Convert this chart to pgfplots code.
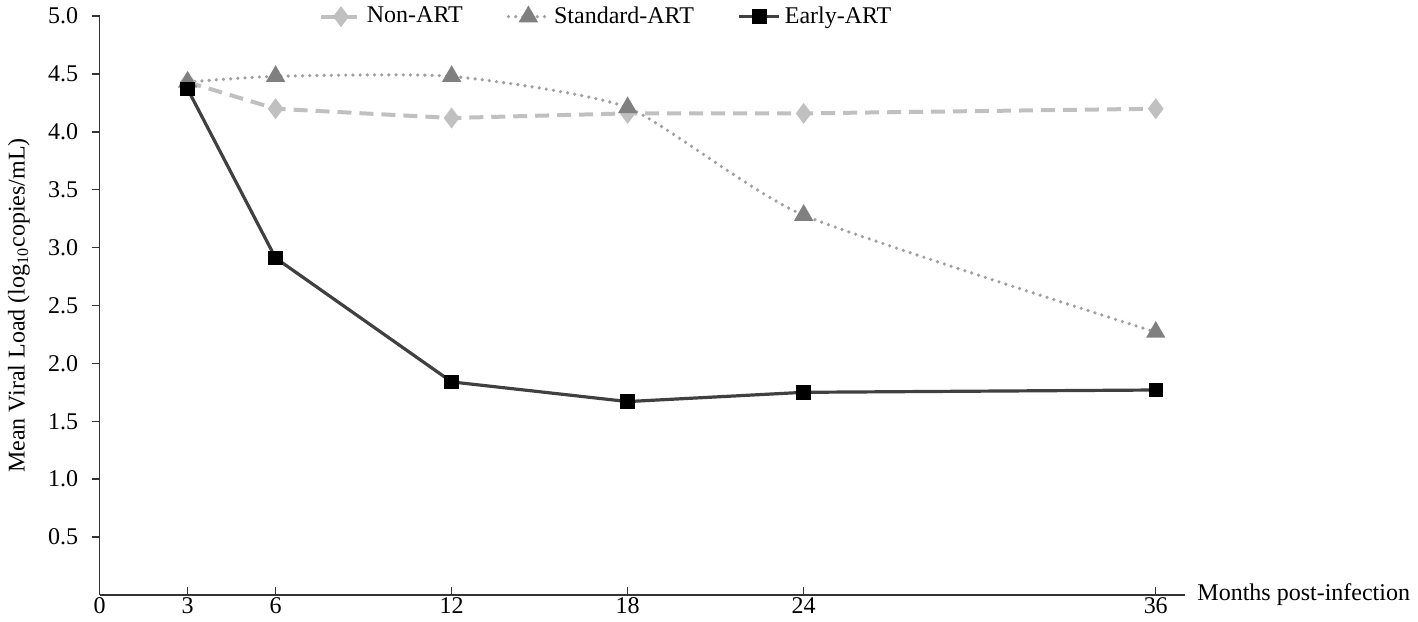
\documentclass[border=0pt]{standalone}
\usepackage{pgfplots}
\pgfplotsset{compat=1.18}
\usepackage{fontspec}
\setmainfont{Liberation Serif}
\definecolor{nonart}{HTML}{C0C0C0}
\definecolor{stdline}{HTML}{A0A0A0}
\definecolor{stdmark}{HTML}{808080}
\definecolor{early}{HTML}{404040}
\begin{document}
\fontsize{12}{14}\selectfont
\begin{tikzpicture}
\begin{axis}[
  scale only axis,
  width=543pt, height=289.5pt,
  xmin=0, xmax=37, ymin=0, ymax=5,
  axis x line=bottom, axis y line=left,
  axis line style={-, black!80, line width=0.8pt},
  xtick={0,3,6,12,18,24,36},
  ytick={0.5,1,1.5,2,2.5,3,3.5,4,4.5,5},
  yticklabel style={xshift=-2.5pt, /pgf/number format/.cd, fixed, fixed zerofill, precision=1},
  /pgf/number format/assume math mode=true,
  x tick style={black!80, line width=0.7pt},
  y tick style={black!80, line width=0.7pt},
  xtick align=inside, ytick align=outside,
  major tick length=4pt,
  tick label style={font=\fontsize{12}{14}\selectfont},
  xticklabel style={yshift=3pt},
  ylabel={Mean Viral Load (log\textsubscript{10}copies/mL)},
  ylabel style={font=\fontsize{12}{14}\selectfont, yshift=1pt},
  clip=false,
  legend columns=3,
  legend style={draw=none, fill=none, inner sep=1pt, at={(rel axis cs:0.20,1.0)}, anchor=north west, yshift=8pt,
    font=\fontsize{12}{14}\selectfont, /tikz/every even column/.append style={column sep=20pt}},
  legend image code/.code={
    \draw[#1, mark=none] (0cm,0cm) -- (0.7cm,0cm);
    \draw[#1, only marks] plot coordinates {(0.35cm,0cm)};
  },
]
\addplot[nonart, line width=2pt, dash pattern=on 7pt off 4pt, mark=diamond*, mark size=3.6pt,
  mark options={solid, fill=nonart, draw=nonart}]
  coordinates {(3,4.43) (6,4.20) (12,4.12) (18,4.16) (24,4.16) (36,4.20)};
\addlegendentry{Non-ART}
\addplot[stdline, line width=1.8pt, line cap=round, dash pattern=on 0pt off 3.6pt, smooth, tension=0.35,
  mark=triangle*, mark size=3.8pt, mark options={solid, fill=stdmark, draw=stdmark}]
  coordinates {(3,4.43) (6,4.48) (12,4.48) (18,4.21) (24,3.28) (36,2.27)};
\addlegendentry{Standard-ART}
\addplot[early, line width=1.6pt, mark=square*, mark size=2.8pt, mark options={fill=black, draw=black}]
  coordinates {(3,4.37) (6,2.91) (12,1.84) (18,1.67) (24,1.75) (36,1.77)};
\addlegendentry{Early-ART}
\node[anchor=west, font=\fontsize{12}{14}\selectfont, xshift=2pt] at (rel axis cs:1,0) {Months post-infection};
\end{axis}
\end{tikzpicture}
\end{document}
